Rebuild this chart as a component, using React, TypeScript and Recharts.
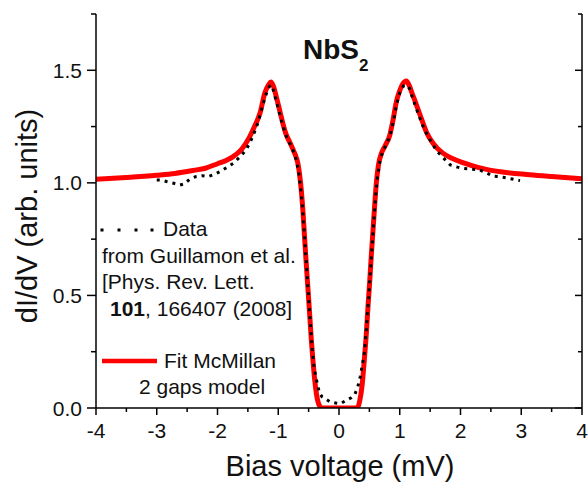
import React from 'react';
import { LineChart, Line, XAxis, YAxis } from 'recharts';

// Fit (McMillan 2 gaps model) – bias voltage (mV) and dI/dV
const fitV = [
  -4, -3.5, -3.0, -2.7, -2.4, -2.2, -2.0, -1.85, -1.7, -1.6, -1.5, -1.4, -1.3, -1.22, -1.16, -1.12,
  -1.08, -1.03, -0.975, -0.92, -0.87, -0.81, -0.76, -0.72, -0.68, -0.65, -0.62, -0.59, -0.565, -0.54,
  -0.51, -0.48, -0.455, -0.43, -0.4, -0.37, -0.34, -0.31, -0.28, -0.2, 0, 0.2, 0.28, 0.31, 0.34,
  0.38, 0.42, 0.45, 0.477, 0.505, 0.53, 0.56, 0.587, 0.615, 0.65, 0.697, 0.76, 0.834, 0.89, 0.944,
  1.0, 1.05, 1.11, 1.16, 1.2, 1.27, 1.35, 1.44, 1.55, 1.71, 1.85, 2.04, 2.3, 2.59, 3.14, 3.5, 4,
];
const fitG = [
  1.016, 1.024, 1.034, 1.042, 1.055, 1.065, 1.085, 1.1, 1.125, 1.15, 1.19, 1.245, 1.31, 1.4, 1.435, 1.448,
  1.43, 1.38, 1.32, 1.26, 1.215, 1.18, 1.15, 1.125, 1.09, 1.04, 0.965, 0.86, 0.75, 0.645,
  0.525, 0.405, 0.3, 0.215, 0.125, 0.06, 0.022, 0.005, 0, 0, 0, 0, 0, 0.004, 0.03,
  0.1, 0.225, 0.33, 0.45, 0.56, 0.67, 0.79, 0.9, 1.0, 1.08, 1.13, 1.165, 1.21, 1.28, 1.36,
  1.41, 1.44, 1.452, 1.43, 1.4, 1.35, 1.29, 1.225, 1.175, 1.132, 1.11, 1.09, 1.068, 1.052, 1.036, 1.028, 1.018,
];

// Measured data (Guillamon et al.)
const dataV = [
  -3.0, -2.92, -2.84, -2.72, -2.62, -2.55, -2.45, -2.35, -2.25, -2.15, -2.05, -1.96, -1.85, -1.74,
  -1.63, -1.52, -1.42, -1.33, -1.25, -1.18, -1.13, -1.09, -1.04, -0.98, -0.92, -0.86, -0.8, -0.75,
  -0.7, -0.66, -0.62, -0.59, -0.56, -0.53, -0.5, -0.47, -0.44, -0.41, -0.38, -0.35, -0.32, -0.28,
  -0.235, -0.15, -0.05, 0.03, 0.12, 0.2, 0.26, 0.31, 0.35, 0.39, 0.42, 0.45, 0.48, 0.51, 0.54, 0.57,
  0.6, 0.63, 0.67, 0.72, 0.78, 0.84, 0.9, 0.95, 1.0, 1.06, 1.11, 1.16, 1.22, 1.3, 1.4, 1.5, 1.6,
  1.72, 1.83, 1.95, 2.04, 2.15, 2.31, 2.42, 2.53, 2.62, 2.7, 2.8, 2.92, 2.98,
];
const dataG = [
  1.013, 1.012, 1.006, 0.998, 0.99, 0.995, 1.018, 1.028, 1.032, 1.028, 1.038, 1.05, 1.068, 1.087,
  1.115, 1.15, 1.205, 1.27, 1.35, 1.41, 1.435, 1.42, 1.37, 1.31, 1.25, 1.2, 1.17, 1.14,
  1.1, 1.04, 0.95, 0.85, 0.73, 0.61, 0.49, 0.37, 0.26, 0.18, 0.135, 0.1, 0.065, 0.05,
  0.043, 0.028, 0.022, 0.02, 0.034, 0.045, 0.06, 0.095, 0.14, 0.2, 0.25, 0.35, 0.46, 0.58, 0.7, 0.82,
  0.93, 1.02, 1.09, 1.14, 1.17, 1.21, 1.28, 1.35, 1.4, 1.43, 1.435, 1.42, 1.37, 1.31, 1.24, 1.19, 1.145,
  1.11, 1.08, 1.07, 1.064, 1.062, 1.058, 1.045, 1.03, 1.028, 1.025, 1.02, 1.013, 1.01,
];

const xMajorTicks = [-4, -3, -2, -1, 0, 1, 2, 3, 4];
const xTickLabels = ['-4', '-3', '-2', '-1', '0', '1', '2', '3', '4'];
const xMinorTicks = [-3.5, -2.5, -1.5, -0.5, 0.5, 1.5, 2.5, 3.5];
const yMajorTicks = [0, 0.5, 1.0, 1.5];
const yTickLabels = ['0.0', '0.5', '1.0', '1.5'];
const yMinorTicks = [0.25, 0.75, 1.25, 1.75];

const xTitle = 'Bias voltage (mV)';
const yTitle = 'dI/dV (arb. units)';
const chartTitle = 'NbS';
const chartTitleSub = '2';
const legendData = ['Data', 'from Guillamon et al.', '[Phys. Rev. Lett.'];
const legendRefBold = '101';
const legendRefRest = ', 166407 (2008]';
const legendFit = ['Fit McMillan', '2 gaps model'];

const fitRows = fitV.map((v, i) => ({ v, g: fitG[i] }));
const dataRows = dataV.map((v, i) => ({ v, g: dataG[i] }));
const xAllTicks = [...xMajorTicks, ...xMinorTicks].sort((a, b) => a - b);
const yAllTicks = [...yMajorTicks, ...yMinorTicks].sort((a, b) => a - b);

const FONT = "'Liberation Sans', Arial, Helvetica, sans-serif";
const INK = '#111';

function BottomTick(props: any) {
  const { x, y, payload } = props;
  const idx = xMajorTicks.indexOf(payload.value);
  const len = idx >= 0 ? 7 : 4;
  return (
    <g>
      <line x1={x} x2={x} y1={y} y2={y + len} stroke="#000" strokeWidth={1.5} />
      {idx >= 0 && (
        <text x={x} y={y + 30} textAnchor="middle" fontSize={21} fill={INK} fontFamily={FONT}>
          {xTickLabels[idx]}
        </text>
      )}
    </g>
  );
}

function TopTick(props: any) {
  const { x, y, payload } = props;
  const major = xMajorTicks.indexOf(payload.value) >= 0;
  const len = major ? 7 : 4;
  return <line x1={x} x2={x} y1={y} y2={y + len} stroke="#000" strokeWidth={1.5} />;
}

function LeftTick(props: any) {
  const { x, y, payload } = props;
  const idx = yMajorTicks.indexOf(payload.value);
  const len = idx >= 0 ? 9 : 5;
  return (
    <g>
      <line x1={x - len} x2={x} y1={y} y2={y} stroke="#000" strokeWidth={1.5} />
      {idx >= 0 && (
        <text x={x - 14} y={y + 7.5} textAnchor="end" fontSize={21} fill={INK} fontFamily={FONT}>
          {yTickLabels[idx]}
        </text>
      )}
    </g>
  );
}

function RightTick(props: any) {
  const { x, y, payload } = props;
  const major = yMajorTicks.indexOf(payload.value) >= 0;
  const len = major ? 7 : 4;
  return <line x1={x - len} x2={x} y1={y} y2={y} stroke="#000" strokeWidth={1.5} />;
}

export default function App() {
  return (
    <div style={{ position: 'absolute', left: 0, top: 0, width: 588, height: 483, background: '#fff' }}>
      <LineChart
        width={588}
        height={483}
        margin={{ top: 14, right: 0, bottom: 0, left: 0 }}
      >
        <XAxis
          xAxisId={0}
          dataKey="v"
          type="number"
          domain={[-4, 4]}
          allowDataOverflow
          ticks={xAllTicks}
          interval={0}
          height={75}
          tickSize={0}
          tickMargin={0}
          tickLine={false}
          axisLine={{ stroke: '#000', strokeWidth: 1.5 }}
          tick={<BottomTick />}
        />
        <XAxis
          xAxisId="top"
          orientation="top"
          dataKey="v"
          type="number"
          domain={[-4, 4]}
          allowDataOverflow
          ticks={xAllTicks}
          interval={0}
          height={0}
          tickSize={0}
          tickMargin={0}
          tickLine={false}
          axisLine={{ stroke: '#000', strokeWidth: 1.5 }}
          tick={<TopTick />}
        />
        <YAxis
          yAxisId={0}
          type="number"
          domain={[0, 1.75]}
          allowDataOverflow
          ticks={yAllTicks}
          interval={0}
          width={96}
          tickSize={0}
          tickMargin={0}
          tickLine={false}
          axisLine={{ stroke: '#000', strokeWidth: 1.5 }}
          tick={<LeftTick />}
        />
        <YAxis
          yAxisId="right"
          orientation="right"
          type="number"
          domain={[0, 1.75]}
          allowDataOverflow
          ticks={yAllTicks}
          interval={0}
          width={6}
          tickSize={0}
          tickMargin={0}
          tickLine={false}
          axisLine={{ stroke: '#000', strokeWidth: 1.5 }}
          tick={<RightTick />}
        />
        <Line
          data={fitRows}
          dataKey="g"
          xAxisId={0}
          yAxisId={0}
          type="monotone"
          stroke="#ff0000"
          strokeWidth={5}
          dot={false}
          activeDot={false}
          isAnimationActive={false}
        />
        <Line
          data={dataRows}
          dataKey="g"
          xAxisId={0}
          yAxisId={0}
          type="linear"
          stroke="#000"
          strokeWidth={3}
          strokeDasharray="3 5"
          dot={false}
          activeDot={false}
          isAnimationActive={false}
        />
      </LineChart>
      <svg
        width={588}
        height={483}
        style={{ position: 'absolute', left: 0, top: 0, pointerEvents: 'none' }}
        fontFamily={FONT}
      >
        <text x={303} y={59} fontSize={28} fontWeight="bold" fill={INK}>
          {chartTitle}
        </text>
        <text x={359} y={71} fontSize={17} fontWeight="bold" fill={INK}>
          {chartTitleSub}
        </text>
        {[102, 119, 136, 152].map((dx) => (
          <rect key={dx} x={dx - 1.5} y={228.5} width={3} height={3} fill="#000" />
        ))}
        <text x={163} y={236} fontSize={21} fill={INK}>{legendData[0]}</text>
        <text x={102} y={263} fontSize={21} fill={INK}>{legendData[1]}</text>
        <text x={102} y={289} fontSize={21} fill={INK}>{legendData[2]}</text>
        <text x={110} y={316} fontSize={21} fill={INK}>
          <tspan fontWeight="bold">{legendRefBold}</tspan>
          <tspan>{legendRefRest}</tspan>
        </text>
        <line x1={102} x2={157} y1={361} y2={361} stroke="#ff0000" strokeWidth={4.5} />
        <text x={164} y={368} fontSize={21} fill={INK}>{legendFit[0]}</text>
        <text x={139} y={394} fontSize={21} fill={INK}>{legendFit[1]}</text>
        <text x={340} y={476} fontSize={29} textAnchor="middle" fill={INK}>
          {xTitle}
        </text>
        <text
          transform="translate(37,216) rotate(-90)"
          x={0}
          y={0}
          fontSize={29}
          textAnchor="middle"
          fill={INK}
        >
          {yTitle}
        </text>
      </svg>
    </div>
  );
}
